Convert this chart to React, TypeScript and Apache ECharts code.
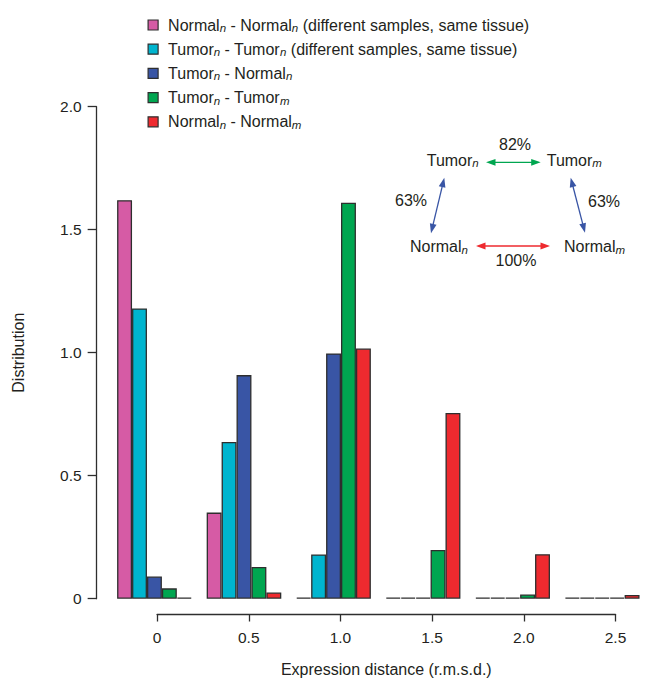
import React, { useEffect, useRef } from 'react';
import * as echarts from 'echarts';

// ---- data ----
const categories = ['0', '0.5', '1.0', '1.5', '2.0', '2.5'];
const seriesNames = [
  'Normal_n - Normal_n (different samples, same tissue)',
  'Tumor_n - Tumor_n (different samples, same tissue)',
  'Tumor_n - Normal_n',
  'Tumor_n - Tumor_m',
  'Normal_n - Normal_m',
];
const normalNormalSame = [1.62, 0.35, 0, 0, 0, 0];
const tumorTumorSame = [1.18, 0.637, 0.18, 0, 0, 0];
const tumorNormal = [0.09, 0.909, 0.997, 0, 0, 0];
const tumorTumorDiff = [0.042, 0.129, 1.61, 0.198, 0.017, 0];
const normalNormalDiff = [0, 0.025, 1.017, 0.755, 0.181, 0.015];
const seriesValues = [normalNormalSame, tumorTumorSame, tumorNormal, tumorTumorDiff, normalNormalDiff];
const seriesColors = ['#D65BA5', '#00B5CF', '#3955A5', '#00A650', '#EE2A2F'];

const yTickMax = 2.0;
const yTickStep = 0.5;
const xTickMax = 2.5;
const xTickStep = 0.5;

const diagramNodes = ['Tumor_n', 'Tumor_m', 'Normal_n', 'Normal_m'];
const diagramPercents = ['82%', '63%', '63%', '100%'];

const FONT = 'Liberation Sans, Arial, Helvetica, sans-serif';
const TXT = '#231F20';
const AXIS = '#2E2E2E';

const sub = (s: string) => s.replace(/_(\w)/g, '{s|$1}');

function textEl(text: string, x: number, y: number, align: string, fontSize = 16) {
  return {
    type: 'text',
    x,
    y,
    style: {
      text: sub(text),
      align,
      textAlign: align,
      verticalAlign: 'middle',
      textVerticalAlign: 'middle',
      fontSize,
      fontFamily: FONT,
      fill: TXT,
      lineHeight: 18,
      rich: {
        s: { fontSize: 11.5, fontStyle: 'italic', fontFamily: FONT, fill: TXT, verticalAlign: 'bottom', lineHeight: 8 },
      },
    },
  };
}

function arrow(x1: number, y1: number, x2: number, y2: number, color: string) {
  const dx = x2 - x1;
  const dy = y2 - y1;
  const L = Math.sqrt(dx * dx + dy * dy);
  const ux = dx / L;
  const uy = dy / L;
  const px = -uy;
  const py = ux;
  const hl = 9.5;
  const hw = 3.4;
  const head = (tx: number, ty: number, dir: number) => [
    [tx, ty],
    [tx - dir * ux * hl + px * hw, ty - dir * uy * hl + py * hw],
    [tx - dir * ux * hl - px * hw, ty - dir * uy * hl - py * hw],
  ];
  return [
    {
      type: 'line',
      shape: { x1: x1 + ux * 6, y1: y1 + uy * 6, x2: x2 - ux * 6, y2: y2 - uy * 6 },
      style: { stroke: color, lineWidth: 1.3 },
    },
    { type: 'polygon', shape: { points: head(x1, y1, -1) }, style: { fill: color } },
    { type: 'polygon', shape: { points: head(x2, y2, 1) }, style: { fill: color } },
  ];
}

const tickFmt = (v: number) => (v === 0 ? '0' : v.toFixed(1));

export default function App() {
  const ref = useRef<HTMLDivElement>(null);
  useEffect(() => {
    if (!ref.current) return;
    const chart = echarts.init(ref.current, null, { renderer: 'svg' });
    const option: any = {
      animation: false,
      backgroundColor: '#ffffff',
      textStyle: { fontFamily: FONT },
      legend: {
        orient: 'vertical',
        left: 142.5,
        top: 11,
        itemWidth: 10,
        itemHeight: 10,
        itemGap: 6.2,
        icon: 'rect',
        selectedMode: false,
        data: seriesNames,
        formatter: (name: string) => sub(name),
        itemStyle: { borderColor: AXIS, borderWidth: 1.2 },
        textStyle: {
          fontSize: 16,
          fontFamily: FONT,
          color: TXT,
          lineHeight: 18,
          padding: [0, 0, 0, 5],
          rich: {
            s: { fontSize: 11.5, fontStyle: 'italic', fontFamily: FONT, color: TXT, verticalAlign: 'bottom', lineHeight: 8 },
          },
        },
      },
      grid: [
        { left: 109.65, top: 106.7, width: 550.2, height: 492, containLabel: false },
        { left: 157.1, top: 600, width: 458.4, height: 14, containLabel: false },
      ],
      xAxis: [
        {
          type: 'category',
          gridIndex: 0,
          data: categories,
          axisLine: { show: false },
          axisTick: { show: false },
          axisLabel: { show: false },
          splitLine: { show: false },
        },
        {
          type: 'value',
          gridIndex: 1,
          min: 0,
          max: xTickMax,
          interval: xTickStep,
          axisLine: { show: true, lineStyle: { color: AXIS, width: 1.3 } },
          axisTick: { show: true, length: 7.5, lineStyle: { color: AXIS, width: 1.3 } },
          axisLabel: { show: true, margin: 15, fontSize: 15.5, color: TXT, fontFamily: FONT, formatter: tickFmt },
          splitLine: { show: false },
          name: 'Expression distance (r.m.s.d.)',
          nameLocation: 'middle',
          nameGap: 47,
          nameTextStyle: { fontSize: 16, color: TXT, fontFamily: FONT },
        },
      ],
      yAxis: [
        {
          type: 'value',
          gridIndex: 0,
          min: 0,
          max: yTickMax,
          interval: yTickStep,
          offset: 13,
          axisLine: { show: true, lineStyle: { color: AXIS, width: 1.3 } },
          axisTick: { show: true, length: 9, lineStyle: { color: AXIS, width: 1.3 } },
          axisLabel: { show: true, margin: 15, fontSize: 15.5, color: TXT, fontFamily: FONT, formatter: tickFmt },
          splitLine: { show: false },
          name: 'Distribution',
          nameLocation: 'middle',
          nameGap: 70,
          nameTextStyle: { fontSize: 16, color: TXT, fontFamily: FONT },
        },
        {
          type: 'value',
          gridIndex: 1,
          show: false,
          splitLine: { show: false },
        },
      ],
      series: seriesNames.map((name, i) => ({
        name,
        type: 'bar',
        xAxisIndex: 0,
        yAxisIndex: 0,
        data: seriesValues[i],
        barGap: '0%',
        barCategoryGap: '16.667%',
        barMinHeight: 1,
        itemStyle: { color: seriesColors[i], borderColor: AXIS, borderWidth: 1.3 },
        emphasis: { disabled: true },
      })),
      graphic: [
        textEl(diagramNodes[0], 426.7, 160, 'left'),
        textEl(diagramNodes[1], 546.7, 160, 'left'),
        textEl(diagramNodes[2], 410, 246.7, 'left'),
        textEl(diagramNodes[3], 564, 246.7, 'left'),
        textEl(diagramPercents[0], 515, 144, 'center'),
        textEl(diagramPercents[1], 411, 200.7, 'center'),
        textEl(diagramPercents[2], 604, 201.7, 'center'),
        textEl(diagramPercents[3], 516, 260.7, 'center'),
        ...arrow(486, 162.3, 540.7, 162.3, seriesColors[3]),
        ...arrow(444.3, 177.7, 431, 233.3, seriesColors[2]),
        ...arrow(570.7, 177.7, 585, 232.7, seriesColors[2]),
        ...arrow(476, 246, 550, 246, seriesColors[4]),
      ],
    };
    chart.setOption(option);
    return () => chart.dispose();
  }, []);
  return (
    <div
      ref={ref}
      style={{ position: 'absolute', left: 0, top: 0, width: 647, height: 680, background: '#fff' }}
    />
  );
}
